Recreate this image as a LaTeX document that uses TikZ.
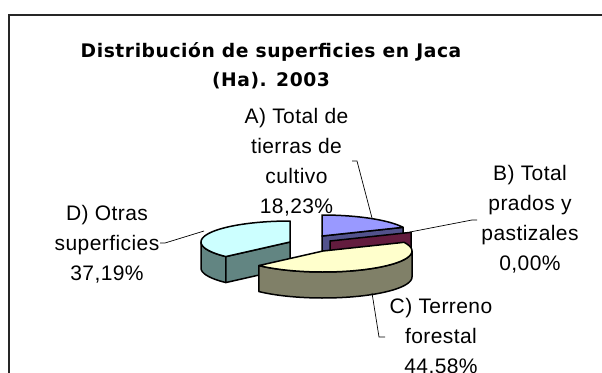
\documentclass[tikz,border=0pt]{standalone}
\usepackage{fontspec}
\setmainfont{Liberation Sans}[LetterSpace=2]
\newfontfamily\titlefont[LetterSpace=3]{DejaVu Sans}
\definecolor{atop}{RGB}{153,153,255}
\definecolor{aside}{RGB}{82,82,140}
\definecolor{bside}{RGB}{99,28,62}
\definecolor{ctop}{RGB}{255,255,204}
\definecolor{cside}{RGB}{128,128,104}
\definecolor{dtop}{RGB}{204,255,255}
\definecolor{dside}{RGB}{98,133,130}
\tikzset{
  facestyle/.style={draw=black,line width=1.5pt,line join=round},
  leader/.style={draw=black,line width=0.7pt},
  lbl/.style={align=center,inner sep=0pt,anchor=north,font=\fontsize{21}{30}\selectfont},
  frame/.style={draw=black!85,line width=1.3pt}
}
\def\rx{89}
\def\ry{21}
\def\hh{26}
% outer side: cx cy t1 t2 colour
\newcommand\outerside[5]{%
  \filldraw[facestyle,fill=#5] plot[domain=#3:#4,samples=40,variable=\t] ({#1+\rx*cos(\t)},{#2-\ry*sin(\t)})
    -- plot[domain=#4:#3,samples=40,variable=\t] ({#1+\rx*cos(\t)},{#2-\ry*sin(\t)+\hh}) -- cycle;}
% cut face: cx cy t colour
\newcommand\cutface[4]{%
  \filldraw[facestyle,fill=#4] (#1,#2) -- ({#1+\rx*cos(#3)},{#2-\ry*sin(#3)}) -- ++(0,\hh) -- (#1,#2+\hh) -- cycle;}
% top face: cx cy a b colour
\newcommand\topface[5]{%
  \filldraw[facestyle,fill=#5] (#1,#2) -- plot[domain=#3:#4,samples=50,variable=\t] ({#1+\rx*cos(\t)},{#2-\ry*sin(\t)}) -- cycle;}
\begin{document}
\begin{tikzpicture}[x=1pt,y=-1pt]
\useasboundingbox (0,0) rectangle (602,372);
\fill[white] (0,0) rectangle (602,372);
\begin{scope}
\clip (0,0) rectangle (602,372);
\draw[frame] (9,15) rectangle (640,420);
\end{scope}
% title
\node[align=center,inner sep=0pt,anchor=base,font=\titlefont\bfseries\fontsize{18.7}{29}\selectfont] (title) at (271,86) {Distribución de superficies en Jaca\\(Ha). 2003};
% slice A
\cutface{322}{236}{24.4}{aside}
\topface{322}{236}{24.4}{90}{atop}
% slice B
\cutface{330}{241}{24.4}{bside}
% slice D
\outerside{290}{242}{180}{223.9}{dside}
\cutface{290}{242}{223.9}{dside}
\topface{290}{242}{90}{223.9}{dtop}
% slice C
\outerside{323}{251}{223.9}{360}{cside}
\topface{323}{251}{223.9}{384.4}{ctop}
% labels
\node[lbl] (la) at (296.5,108) {A) Total de\\tierras de\\cultivo\\18,23\%};
\node[lbl] (lb) at (530,165) {B) Total\\prados y\\pastizales\\0,00\%};
\node[lbl] (lc) at (441,298.5) {C) Terreno\\forestal\\44,58\%};
\node[lbl] (ld) at (107,205) {D) Otras\\superficies\\37,19\%};
% leaders
\coordinate (pa) at (372,218);
\coordinate (pb) at (410,232);
\coordinate (pc) at (372,293);
\coordinate (pd) at (204,231);
\draw[leader] (352,161) -- (357,161) -- (pa);
\draw[leader] (pb) -- (472,220) -- (477,220);
\draw[leader] (pc) -- (379,337) -- (385,337);
\draw[leader] (pd) -- (165,243) -- (160,243);
\end{tikzpicture}
\end{document}
